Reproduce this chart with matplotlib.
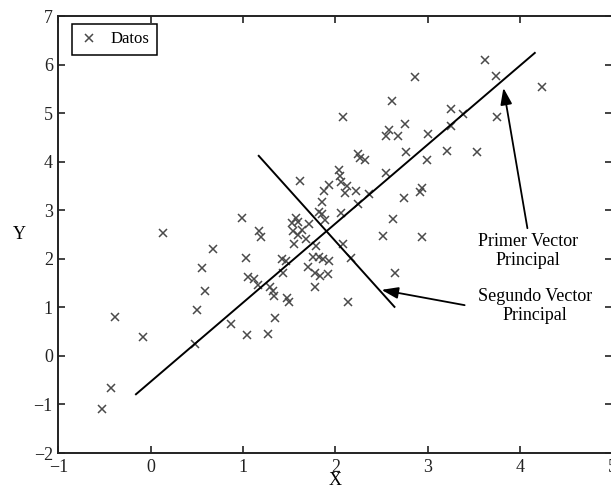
import matplotlib
matplotlib.use("Agg")
import matplotlib.pyplot as plt

plt.rcParams['font.family'] = ['Liberation Serif', 'DejaVu Serif']
plt.rcParams['mathtext.fontset'] = 'stix'

# Observed samples
datos_x = [-0.524, -0.430, -0.384, -0.080, 0.480, 0.498, 0.870, 1.040, 1.268, 1.347,
           0.137, 0.675, 0.553, 0.588, 0.989, 1.173, 1.190, 1.027, 1.054, 1.114,
           1.166, 1.296, 1.328, 1.338, 1.473, 1.496, 1.433, 1.419, 1.460, 1.621,
           2.040, 2.051, 2.060, 1.930, 1.880, 2.129, 2.105, 2.222, 2.360, 2.544,
           2.744, 2.914, 2.939, 2.241, 1.853, 1.827, 1.853, 1.892, 2.065, 2.628,
           2.514, 2.936, 1.578, 1.599, 1.528, 1.713, 1.542, 1.639, 1.599, 1.683,
           1.547, 1.793, 2.087, 1.762, 1.820, 1.870, 1.930, 2.170, 1.699, 1.775,
           1.831, 1.924, 2.647, 1.780, 2.138, 2.864, 2.609, 2.080, 2.585, 2.549,
           2.683, 2.752, 2.999, 2.766, 2.993, 2.244, 2.264, 2.322, 3.622, 3.741,
           4.240, 3.253, 3.387, 3.749, 3.253, 3.213, 3.532]
datos_y = [-1.09, -0.66, 0.80, 0.39, 0.24, 0.95, 0.65, 0.43, 0.45, 0.79,
           2.53, 2.21, 1.82, 1.34, 2.85, 2.57, 2.45, 2.01, 1.63, 1.59,
           1.47, 1.42, 1.34, 1.24, 1.20, 1.11, 1.70, 1.99, 1.95, 3.60,
           3.82, 3.71, 3.59, 3.51, 3.39, 3.49, 3.36, 3.40, 3.33, 3.77,
           3.26, 3.37, 3.45, 3.12, 3.17, 2.97, 2.92, 2.80, 2.95, 2.81,
           2.47, 2.44, 2.84, 2.76, 2.73, 2.72, 2.58, 2.59, 2.50, 2.40,
           2.30, 2.26, 2.31, 2.04, 2.03, 2.00, 1.96, 2.02, 1.84, 1.70,
           1.65, 1.68, 1.70, 1.42, 1.11, 5.74, 5.25, 4.93, 4.65, 4.52,
           4.52, 4.77, 4.58, 4.20, 4.03, 4.15, 4.08, 4.03, 6.09, 5.77,
           5.53, 5.08, 4.99, 4.93, 4.74, 4.22, 4.20]

# Principal directions drawn as segments through the data
pc1_x = [-0.16, 4.16]
pc1_y = [-0.79, 6.24]
pc2_x = [1.17, 2.64]
pc2_y = [4.12, 1.01]

# Annotation anchors (text position, arrow tip)
label1 = "Primer Vector\nPrincipal"
label1_xy = (4.09, 2.17)
arrow1_tail = (4.08, 2.63)
arrow1_tip = (3.82, 5.52)

label2 = "Segundo Vector\nPrincipal"
label2_xy = (4.16, 1.03)
arrow2_tail = (3.40, 1.045)
arrow2_tip = (2.50, 1.36)

fig = plt.figure(figsize=(6.11, 4.90), dpi=100)
ax = fig.add_axes([0.0956, 0.0755, 0.9066, 0.8918])

ax.plot(datos_x, datos_y, linestyle='none', marker='x', color='#4a4a4a',
        markersize=6, markeredgewidth=1.1, label='Datos')
ax.plot(pc1_x, pc1_y, color='black', lw=1.4)
ax.plot(pc2_x, pc2_y, color='black', lw=1.4)

arrow_style = dict(arrowstyle='-|>,head_length=1.0,head_width=0.35',
                   color='black', lw=1.3, shrinkA=0, shrinkB=0)
ax.annotate('', xy=arrow1_tip, xytext=arrow1_tail, arrowprops=arrow_style)
ax.annotate('', xy=arrow2_tip, xytext=arrow2_tail, arrowprops=arrow_style)
ax.text(*label1_xy, label1, ha='center', va='center', fontsize=13, linespacing=1.15)
ax.text(*label2_xy, label2, ha='center', va='center', fontsize=13, linespacing=1.15)

ax.set_xlim(-1, 5)
ax.set_ylim(-2, 7)
ax.set_xticks(range(-1, 6))
ax.set_yticks(range(-2, 8))
ax.tick_params(direction='in', top=True, right=True, length=5, width=1.2,
               labelsize=13, pad=4, colors='#222222')
for s in ax.spines.values():
    s.set_linewidth(1.4)
    s.set_color('#222222')

ax.set_xlabel('X', fontsize=13, labelpad=-2.5)
ax.set_ylabel('Y', fontsize=13, rotation=0, va='center', labelpad=10)

leg = ax.legend(loc='upper left', fontsize=12, fancybox=False, edgecolor='black',
                framealpha=1, borderpad=0.45, handlelength=1.1, handletextpad=0.75,
                borderaxespad=0, bbox_to_anchor=(0.0245, 0.982))
leg.get_frame().set_linewidth(1.1)

fig.savefig('out.png', dpi=100)
